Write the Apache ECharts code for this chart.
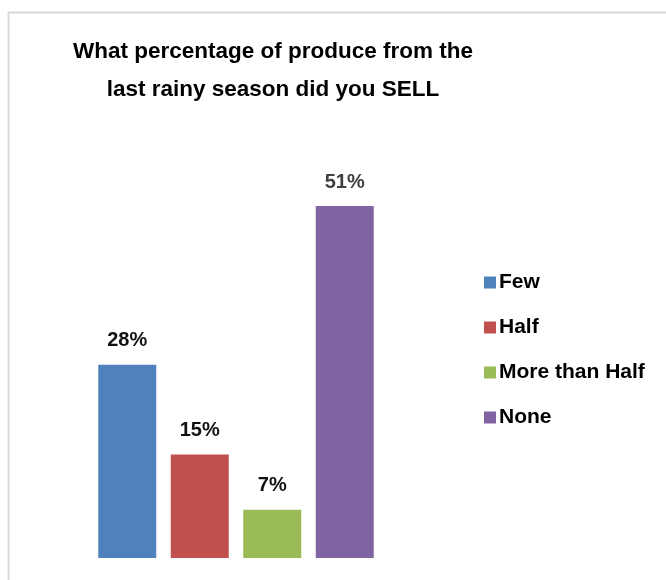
<!DOCTYPE html>
<html>
<head>
<meta charset="utf-8">
<script src="https://cdn.jsdelivr.net/npm/echarts@6/dist/echarts.min.js"></script>
<style>
  html, body { margin: 0; padding: 0; background: #ffffff; }
  #chart { width: 666px; height: 580px; }
</style>
</head>
<body>
<div id="chart"></div>
<script>
// Share of last rainy season's produce that was sold
const categories = ['Few', 'Half', 'More than Half', 'None'];
const values = [28, 15, 7, 51];
const colors = ['#4F81BD', '#C0504D', '#9BBB59', '#8064A2'];
const labelColors = ['#111111', '#111111', '#111111', '#404040'];

const chart = echarts.init(document.getElementById('chart'), null, { renderer: 'canvas' });

const series = categories.map((name, i) => ({
  name: name,
  type: 'bar',
  data: [values[i]],
  barWidth: 58,
  barGap: '25%',
  itemStyle: { color: colors[i] },
  label: {
    show: true,
    position: 'top',
    distance: 14,
    formatter: '{c}%',
    fontFamily: 'Liberation Sans',
    fontWeight: 'bold',
    fontSize: 20,
    color: labelColors[i]
  }
}));

chart.setOption({
  animation: false,
  backgroundColor: '#ffffff',
  graphic: [{
    type: 'rect',
    left: 6,
    top: 10,
    shape: { width: 700, height: 620 },
    style: { fill: 'none', stroke: '#d9d9d9', lineWidth: 2 },
    silent: true
  }],
  title: {
    text: 'What percentage of produce from the\nlast rainy season did you SELL',
    left: 268,
    top: 28,
    textAlign: 'center',
    textStyle: {
      fontFamily: 'Liberation Sans',
      fontWeight: 'bold',
      fontSize: 22.5,
      lineHeight: 38,
      color: '#000000'
    }
  },
  legend: {
    orient: 'vertical',
    left: 479,
    top: 267,
    itemWidth: 12,
    itemHeight: 12,
    itemGap: 24,
    icon: 'rect',
    data: categories,
    textStyle: {
      fontFamily: 'Liberation Sans',
      fontWeight: 'bold',
      fontSize: 21,
      color: '#000000',
      padding: [0, 0, 0, -2]
    }
  },
  grid: { left: 60, width: 352, bottom: 22, top: 144 },
  xAxis: {
    type: 'category',
    data: [''],
    axisLine: { show: false },
    axisTick: { show: false },
    axisLabel: { show: false }
  },
  yAxis: {
    type: 'value',
    min: 0,
    max: 60,
    show: false,
    splitLine: { show: false }
  },
  series: series
});
</script>
</body>
</html>
